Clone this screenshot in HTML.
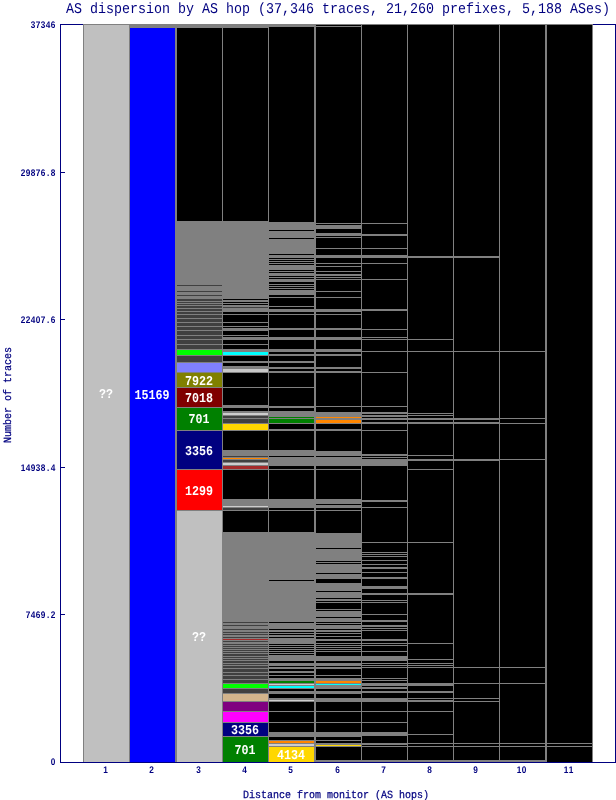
<!DOCTYPE html>
<html><head><meta charset="utf-8"><title>AS dispersion by AS hop</title>
<style>html,body{margin:0;padding:0;background:#fff}svg{display:block}</style></head>
<body>
<svg width="616" height="800" viewBox="0 0 616 800" shape-rendering="crispEdges">
<rect width="616" height="800" fill="#ffffff"/>
<path d="M60 24h556v1h-556zM60 24h1v739h-1zM615 24h1v739h-1zM60 762h556v1h-556z" fill="#000080"/>
<rect x="61" y="172" width="4" height="1" fill="#000080"/>
<rect x="61" y="319" width="4" height="1" fill="#000080"/>
<rect x="61" y="467" width="4" height="1" fill="#000080"/>
<rect x="61" y="614" width="4" height="1" fill="#000080"/>
<rect x="83" y="24" width="510" height="738" fill="#808080"/>
<path fill="#c0c0c0" d="M84 25h45v737h-45zM177 511h45v251h-45z"/>
<path fill="#0000ff" d="M130 28h45v734h-45z"/>
<path fill="#000000" d="M177 28h45v193h-45zM223 28h45v193h-45zM223 299h45v1h-45zM223 302h45v1h-45zM223 304h45v1h-45zM223 312h45v2h-45zM223 315h45v7h-45zM223 323h45v3h-45zM223 327h45v1h-45zM223 331h45v4h-45zM223 336h45v1h-45zM223 340h45v4h-45zM223 345h45v4h-45zM223 356h45v5h-45zM223 363h45v3h-45zM223 373h45v14h-45zM223 388h45v17h-45zM223 408h45v3h-45zM223 431h45v19h-45zM223 470h45v29h-45zM223 511h45v21h-45zM269 27h45v195h-45zM269 230h45v1h-45zM269 238h45v1h-45zM269 254h45v1h-45zM269 258h45v1h-45zM269 260h45v1h-45zM269 262h45v1h-45zM269 264h45v1h-45zM269 270h45v1h-45zM269 272h45v1h-45zM269 276h45v1h-45zM269 278h45v1h-45zM269 282h45v2h-45zM269 285h45v1h-45zM269 287h45v1h-45zM269 289h45v1h-45zM269 295h45v2h-45zM269 298h45v8h-45zM269 307h45v2h-45zM269 312h45v2h-45zM269 315h45v13h-45zM269 330h45v7h-45zM269 340h45v9h-45zM269 352h45v2h-45zM269 356h45v5h-45zM269 363h45v4h-45zM269 369h45v2h-45zM269 373h45v14h-45zM269 388h45v18h-45zM269 408h45v3h-45zM269 424h45v5h-45zM269 431h45v19h-45zM269 456h45v1h-45zM269 466h45v3h-45zM269 470h45v29h-45zM269 508h45v2h-45zM269 511h45v21h-45zM269 580h45v1h-45zM269 622h45v1h-45zM269 629h45v1h-45zM269 632h45v1h-45zM269 634h45v1h-45zM269 637h45v1h-45zM269 644h45v1h-45zM269 646h45v1h-45zM269 648h45v1h-45zM269 650h45v1h-45zM269 652h45v1h-45zM269 654h45v1h-45zM269 661h45v2h-45zM269 666h45v1h-45zM269 669h45v2h-45zM269 673h45v2h-45zM269 676h45v2h-45zM269 689h45v2h-45zM269 694h45v4h-45zM269 702h45v9h-45zM269 712h45v10h-45zM269 723h45v9h-45zM269 737h45v3h-45zM316 25h45v1h-45zM316 27h45v196h-45zM316 224h45v1h-45zM316 229h45v4h-45zM316 236h45v1h-45zM316 238h45v10h-45zM316 249h45v6h-45zM316 258h45v5h-45zM316 264h45v2h-45zM316 267h45v4h-45zM316 272h45v2h-45zM316 276h45v1h-45zM316 278h45v1h-45zM316 280h45v11h-45zM316 292h45v5h-45zM316 298h45v11h-45zM316 312h45v2h-45zM316 315h45v13h-45zM316 330h45v7h-45zM316 340h45v9h-45zM316 352h45v2h-45zM316 356h45v11h-45zM316 369h45v2h-45zM316 373h45v33h-45zM316 407h45v5h-45zM316 424h45v5h-45zM316 431h45v20h-45zM316 456h45v1h-45zM316 466h45v3h-45zM316 470h45v29h-45zM316 504h45v1h-45zM316 508h45v2h-45zM316 511h45v22h-45zM316 548h45v1h-45zM316 561h45v1h-45zM316 563h45v1h-45zM316 573h45v1h-45zM316 579h45v4h-45zM316 591h45v1h-45zM316 598h45v1h-45zM316 601h45v1h-45zM316 603h45v6h-45zM316 610h45v1h-45zM316 617h45v1h-45zM316 622h45v1h-45zM316 624h45v1h-45zM316 629h45v1h-45zM316 632h45v1h-45zM316 634h45v2h-45zM316 637h45v2h-45zM316 641h45v2h-45zM316 644h45v1h-45zM316 646h45v1h-45zM316 648h45v1h-45zM316 650h45v1h-45zM316 652h45v4h-45zM316 661h45v2h-45zM316 666h45v1h-45zM316 669h45v6h-45zM316 676h45v2h-45zM316 689h45v2h-45zM316 694h45v4h-45zM316 702h45v9h-45zM316 712h45v10h-45zM316 723h45v9h-45zM316 737h45v3h-45zM316 741h45v2h-45zM316 747h45v13h-45zM362 25h45v198h-45zM362 224h45v10h-45zM362 236h45v12h-45zM362 249h45v6h-45zM362 258h45v5h-45zM362 264h45v15h-45zM362 280h45v29h-45zM362 311h45v18h-45zM362 330h45v7h-45zM362 338h45v1h-45zM362 340h45v11h-45zM362 352h45v20h-45zM362 373h45v33h-45zM362 407h45v5h-45zM362 414h45v1h-45zM362 417h45v1h-45zM362 420h45v2h-45zM362 424h45v6h-45zM362 431h45v23h-45zM362 456h45v1h-45zM362 458h45v1h-45zM362 466h45v34h-45zM362 502h45v5h-45zM362 508h45v34h-45zM362 543h45v9h-45zM362 553h45v1h-45zM362 555h45v1h-45zM362 557h45v3h-45zM362 561h45v3h-45zM362 565h45v2h-45zM362 569h45v3h-45zM362 573h45v4h-45zM362 579h45v7h-45zM362 589h45v4h-45zM362 595h45v5h-45zM362 601h45v1h-45zM362 603h45v11h-45zM362 615h45v5h-45zM362 622h45v3h-45zM362 627h45v1h-45zM362 629h45v1h-45zM362 631h45v8h-45zM362 641h45v2h-45zM362 644h45v1h-45zM362 646h45v5h-45zM362 652h45v4h-45zM362 661h45v2h-45zM362 664h45v1h-45zM362 666h45v1h-45zM362 668h45v10h-45zM362 679h45v1h-45zM362 681h45v2h-45zM362 686h45v1h-45zM362 689h45v2h-45zM362 693h45v5h-45zM362 702h45v9h-45zM362 712h45v10h-45zM362 723h45v9h-45zM362 736h45v7h-45zM362 745h45v1h-45zM362 747h45v13h-45zM408 25h45v231h-45zM408 258h45v81h-45zM408 340h45v11h-45zM408 352h45v61h-45zM408 414h45v1h-45zM408 416h45v2h-45zM408 420h45v2h-45zM408 424h45v31h-45zM408 456h45v3h-45zM408 461h45v8h-45zM408 470h45v72h-45zM408 543h45v50h-45zM408 595h45v48h-45zM408 644h45v15h-45zM408 660h45v3h-45zM408 664h45v1h-45zM408 666h45v1h-45zM408 668h45v15h-45zM408 686h45v5h-45zM408 693h45v5h-45zM408 699h45v1h-45zM408 702h45v9h-45zM408 712h45v22h-45zM408 735h45v8h-45zM408 744h45v2h-45zM408 747h45v13h-45zM454 25h45v231h-45zM454 258h45v93h-45zM454 352h45v66h-45zM454 420h45v2h-45zM454 424h45v35h-45zM454 461h45v206h-45zM454 668h45v15h-45zM454 684h45v14h-45zM454 699h45v2h-45zM454 702h45v41h-45zM454 744h45v2h-45zM454 747h45v13h-45zM500 25h45v326h-45zM500 352h45v66h-45zM500 419h45v4h-45zM500 424h45v35h-45zM500 460h45v207h-45zM500 668h45v15h-45zM500 684h45v59h-45zM500 744h45v2h-45zM500 747h45v13h-45zM547 25h45v718h-45zM547 744h45v2h-45zM547 747h45v15h-45z"/>
<path fill="#404040" d="M177 285h45v1h-45zM177 291h45v1h-45zM177 295h45v1h-45zM177 299h45v2h-45zM177 302h45v1h-45zM177 304h45v1h-45zM177 306h45v2h-45zM177 309h45v2h-45zM177 312h45v2h-45zM177 315h45v3h-45zM177 319h45v3h-45zM177 323h45v3h-45zM177 327h45v3h-45zM177 331h45v4h-45zM177 336h45v3h-45zM177 340h45v4h-45zM177 345h45v4h-45zM177 356h45v6h-45zM223 307h45v1h-45zM223 416h45v2h-45zM223 419h45v4h-45zM223 456h45v1h-45zM223 460h45v2h-45zM223 508h45v2h-45zM223 622h45v1h-45zM223 625h45v1h-45zM223 629h45v1h-45zM223 632h45v1h-45zM223 634h45v1h-45zM223 637h45v1h-45zM223 641h45v1h-45zM223 644h45v1h-45zM223 646h45v1h-45zM223 648h45v1h-45zM223 650h45v1h-45zM223 652h45v1h-45zM223 654h45v2h-45zM223 657h45v1h-45zM223 659h45v1h-45zM223 661h45v2h-45zM223 664h45v1h-45zM223 666h45v2h-45zM223 669h45v3h-45zM223 673h45v2h-45zM223 676h45v3h-45zM223 680h45v3h-45zM223 689h45v4h-45z"/>
<path fill="#00ff00" d="M177 350h45v5h-45zM223 684h45v4h-45z"/>
<path fill="#8080ff" d="M177 363h45v9h-45z"/>
<path fill="#808000" d="M177 373h45v14h-45z"/>
<path fill="#800000" d="M177 388h45v19h-45z"/>
<path fill="#008000" d="M177 408h45v22h-45zM223 737h45v25h-45zM269 417h45v1h-45zM269 419h45v4h-45zM269 681h45v2h-45z"/>
<path fill="#000080" d="M177 431h45v38h-45zM223 723h45v13h-45z"/>
<path fill="#ff0000" d="M177 470h45v40h-45z"/>
<path fill="#00ffff" d="M223 352h45v3h-45zM269 686h45v2h-45zM316 684h45v1h-45z"/>
<path fill="#c8c8c8" d="M223 369h45v3h-45z"/>
<path fill="#cdcdcd" d="M223 413h45v2h-45zM223 463h45v2h-45zM223 506h45v1h-45zM269 684h45v1h-45zM269 700h45v1h-45zM269 744h45v2h-45z"/>
<path fill="#ffd700" d="M223 424h45v6h-45zM269 747h45v15h-45zM316 745h45v1h-45z"/>
<path fill="#ff8600" d="M223 458h45v1h-45zM269 741h45v2h-45zM316 417h45v1h-45zM316 420h45v3h-45zM316 681h45v2h-45z"/>
<path fill="#a52a2a" d="M223 466h45v3h-45zM223 639h45v1h-45z"/>
<path fill="#d2b48c" d="M223 694h45v7h-45z"/>
<path fill="#800080" d="M223 702h45v9h-45z"/>
<path fill="#ff00ff" d="M223 712h45v10h-45z"/>
<g font-family="'Liberation Mono', monospace" shape-rendering="auto" text-rendering="geometricPrecision" style="will-change:opacity;opacity:0.999">
<text x="66" y="13" font-size="15" fill="#000080" textLength="544" lengthAdjust="spacingAndGlyphs" style="white-space:pre">AS dispersion by AS hop (37,346 traces, 21,260 prefixes, 5,188 ASes)</text>
<text transform="scale(0.86 1)" x="38.49 44.30 50.12 55.93 61.74" y="27.5" text-anchor="middle" font-family="'Liberation Sans', sans-serif" font-size="9.6" font-weight="bold" fill="#000080">37346</text>
<text transform="scale(0.86 1)" x="26.86 32.67 38.49 44.30 50.12 55.93 61.74" y="175.5" text-anchor="middle" font-family="'Liberation Sans', sans-serif" font-size="9.6" font-weight="bold" fill="#000080">29876.8</text>
<text transform="scale(0.86 1)" x="26.86 32.67 38.49 44.30 50.12 55.93 61.74" y="322.5" text-anchor="middle" font-family="'Liberation Sans', sans-serif" font-size="9.6" font-weight="bold" fill="#000080">22407.6</text>
<text transform="scale(0.86 1)" x="26.86 32.67 38.49 44.30 50.12 55.93 61.74" y="470.5" text-anchor="middle" font-family="'Liberation Sans', sans-serif" font-size="9.6" font-weight="bold" fill="#000080">14938.4</text>
<text transform="scale(0.86 1)" x="32.67 38.49 44.30 50.12 55.93 61.74" y="617.5" text-anchor="middle" font-family="'Liberation Sans', sans-serif" font-size="9.6" font-weight="bold" fill="#000080">7469.2</text>
<text transform="scale(0.86 1)" x="61.74" y="765" text-anchor="middle" font-family="'Liberation Sans', sans-serif" font-size="9.6" font-weight="bold" fill="#000080">0</text>
<text transform="scale(0.86 1)" x="122.67" y="773.3" text-anchor="middle" font-family="'Liberation Sans', sans-serif" font-size="9.6" font-weight="bold" fill="#000080">1</text>
<text transform="scale(0.86 1)" x="176.16" y="773.3" text-anchor="middle" font-family="'Liberation Sans', sans-serif" font-size="9.6" font-weight="bold" fill="#000080">2</text>
<text transform="scale(0.86 1)" x="230.81" y="773.3" text-anchor="middle" font-family="'Liberation Sans', sans-serif" font-size="9.6" font-weight="bold" fill="#000080">3</text>
<text transform="scale(0.86 1)" x="284.30" y="773.3" text-anchor="middle" font-family="'Liberation Sans', sans-serif" font-size="9.6" font-weight="bold" fill="#000080">4</text>
<text transform="scale(0.86 1)" x="337.79" y="773.3" text-anchor="middle" font-family="'Liberation Sans', sans-serif" font-size="9.6" font-weight="bold" fill="#000080">5</text>
<text transform="scale(0.86 1)" x="392.44" y="773.3" text-anchor="middle" font-family="'Liberation Sans', sans-serif" font-size="9.6" font-weight="bold" fill="#000080">6</text>
<text transform="scale(0.86 1)" x="445.93" y="773.3" text-anchor="middle" font-family="'Liberation Sans', sans-serif" font-size="9.6" font-weight="bold" fill="#000080">7</text>
<text transform="scale(0.86 1)" x="499.42" y="773.3" text-anchor="middle" font-family="'Liberation Sans', sans-serif" font-size="9.6" font-weight="bold" fill="#000080">8</text>
<text transform="scale(0.86 1)" x="552.91" y="773.3" text-anchor="middle" font-family="'Liberation Sans', sans-serif" font-size="9.6" font-weight="bold" fill="#000080">9</text>
<text transform="scale(0.86 1)" x="603.49 609.30" y="773.3" text-anchor="middle" font-family="'Liberation Sans', sans-serif" font-size="9.6" font-weight="bold" fill="#000080">10</text>
<text transform="scale(0.86 1)" x="658.14 663.95" y="773.3" text-anchor="middle" font-family="'Liberation Sans', sans-serif" font-size="9.6" font-weight="bold" fill="#000080">11</text>
<text x="243" y="798" font-size="11" fill="#000080" stroke="#000080" stroke-width="0.25" textLength="186" lengthAdjust="spacingAndGlyphs" style="white-space:pre">Distance from monitor (AS hops)</text>
<text transform="translate(11.4 443) rotate(-90)" font-size="11" fill="#000080" stroke="#000080" stroke-width="0.25" textLength="96" lengthAdjust="spacingAndGlyphs" style="white-space:pre">Number of traces</text>
<text x="99.0" y="398.0" font-size="13.5" font-weight="bold" fill="#ffffff" textLength="14" lengthAdjust="spacingAndGlyphs">??</text>
<text x="134.5" y="399.0" font-size="13.5" font-weight="bold" fill="#ffffff" textLength="35" lengthAdjust="spacingAndGlyphs">15169</text>
<text x="185.0" y="384.5" font-size="13.5" font-weight="bold" fill="#ffffff" textLength="28" lengthAdjust="spacingAndGlyphs">7922</text>
<text x="185.0" y="402.0" font-size="13.5" font-weight="bold" fill="#ffffff" textLength="28" lengthAdjust="spacingAndGlyphs">7018</text>
<text x="188.5" y="423.1" font-size="13.5" font-weight="bold" fill="#ffffff" textLength="21" lengthAdjust="spacingAndGlyphs">701</text>
<text x="185.0" y="454.5" font-size="13.5" font-weight="bold" fill="#ffffff" textLength="28" lengthAdjust="spacingAndGlyphs">3356</text>
<text x="185.0" y="494.5" font-size="13.5" font-weight="bold" fill="#ffffff" textLength="28" lengthAdjust="spacingAndGlyphs">1299</text>
<text x="192.0" y="641.0" font-size="13.5" font-weight="bold" fill="#ffffff" textLength="14" lengthAdjust="spacingAndGlyphs">??</text>
<text x="231.0" y="734.0" font-size="13.5" font-weight="bold" fill="#ffffff" textLength="28" lengthAdjust="spacingAndGlyphs">3356</text>
<text x="234.5" y="754.0" font-size="13.5" font-weight="bold" fill="#ffffff" textLength="21" lengthAdjust="spacingAndGlyphs">701</text>
<text x="277.0" y="759.0" font-size="13.5" font-weight="bold" fill="#ffffff" textLength="28" lengthAdjust="spacingAndGlyphs">4134</text>
</g></svg>
</body></html>
